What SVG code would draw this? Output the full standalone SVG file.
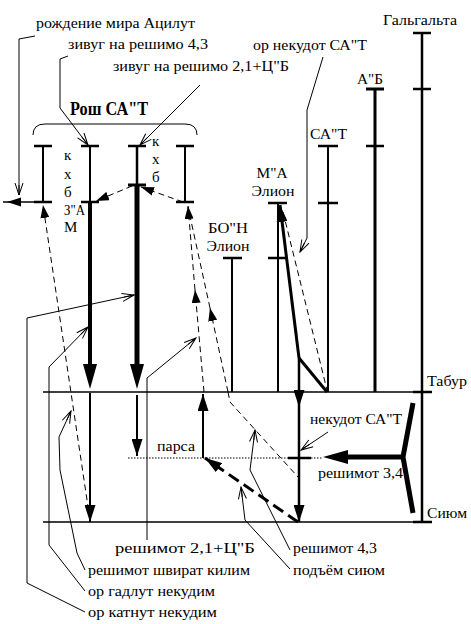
<svg xmlns="http://www.w3.org/2000/svg" width="471" height="624" viewBox="0 0 471 624">
<style>
text{font-family:'Liberation Serif','Times New Roman',serif;font-size:15px;fill:#000}
.m{text-anchor:middle}
.h{font-size:18px;font-weight:bold}
.t{stroke:#000;fill:none;stroke-width:1}
.c{stroke:#000;fill:none;stroke-width:2}
.c3{stroke:#000;fill:none;stroke-width:3}
.bar{stroke:#000;stroke-width:2.5}
.d{stroke:#000;fill:none;stroke-width:1;stroke-dasharray:6 4}
.dk{stroke:#000;fill:none;stroke-width:3;stroke-dasharray:12 6}
.dot{stroke:#000;fill:none;stroke-width:1;stroke-dasharray:1.5 1.5}
</style>
<defs>
<marker id="op" markerUnits="userSpaceOnUse" markerWidth="14" markerHeight="10" refX="13" refY="5" orient="auto" viewBox="0 0 14 10"><path d="M1,1 L13,5 L1,9 M3,5 L13,5" fill="none" stroke="#000" stroke-width="1"/></marker>
<marker id="fs" markerUnits="userSpaceOnUse" markerWidth="13" markerHeight="9" refX="13" refY="4.5" orient="auto" viewBox="0 0 13 9"><path d="M0,0 L13,4.5 L0,9 z" fill="#000"/></marker>
<marker id="fm" markerUnits="userSpaceOnUse" markerWidth="17" markerHeight="11" refX="17" refY="5.5" orient="auto" viewBox="0 0 17 11"><path d="M0,0 L17,5.5 L0,11 z" fill="#000"/></marker>
<marker id="fl" markerUnits="userSpaceOnUse" markerWidth="25" markerHeight="14" refX="6" refY="7" orient="auto" viewBox="0 0 25 14"><path d="M0,0 L25,7 L0,14 z" fill="#000"/></marker>
</defs>
<rect width="471" height="624" fill="#fff"/>

<g id="levels">
<line class="c" x1="43" y1="392" x2="432" y2="392" style="stroke-width:1.5"/>
<line class="c" x1="43" y1="522" x2="432" y2="522" style="stroke-width:1.5"/>
<line class="dot" x1="128" y1="458" x2="323" y2="458"/>
<line class="bar" x1="288" y1="458" x2="311" y2="458"/>
<text x="427" y="386" textLength="40" lengthAdjust="spacingAndGlyphs">Табур</text>
<text x="427" y="518" textLength="40" lengthAdjust="spacingAndGlyphs">Сиюм</text>
<text x="157" y="451" textLength="38" lengthAdjust="spacingAndGlyphs">парса</text>
</g>

<g id="rosh-brace">
<path class="t" d="M33,135 Q33,124 45,124 L185,124 Q197,124 197,135"/>
<text class="h" x="70" y="115" textLength="78" lengthAdjust="spacingAndGlyphs">Рош СА"Т</text>
</g>

<g id="col1">
<line class="c" x1="43" y1="146" x2="43" y2="202"/>
<line class="bar" x1="34" y1="146" x2="52" y2="146"/>
<line class="bar" x1="34" y1="202" x2="52" y2="202"/>
<text x="64" y="160">к</text>
<text x="64" y="179">х</text>
<text x="64" y="197">б</text>
<text x="64" y="215" textLength="21" lengthAdjust="spacingAndGlyphs">З"А</text>
<text x="64" y="232">М</text>
</g>

<g id="col2">
<line class="c" x1="90" y1="146" x2="90" y2="202"/>
<line class="bar" x1="81" y1="146" x2="99" y2="146"/>
<line class="bar" x1="81" y1="202" x2="99" y2="202"/>
<line stroke="#000" stroke-width="4" x1="90" y1="202" x2="90" y2="370" marker-end="url(#fl)"/>
<line class="c" x1="90" y1="393" x2="90" y2="522" marker-end="url(#fm)"/>
</g>

<g id="col3">
<line class="c" x1="137" y1="146" x2="137" y2="185" style="stroke-width:2.5"/>
<line class="bar" x1="128" y1="146" x2="146" y2="146"/>
<line class="bar" x1="128" y1="185" x2="146" y2="185" style="stroke-width:3"/>
<line stroke="#000" stroke-width="5" x1="137" y1="185" x2="137" y2="370" marker-end="url(#fl)"/>
<line class="c" x1="137" y1="395" x2="137" y2="456" marker-end="url(#fm)"/>
<text x="152" y="146">к</text>
<text x="152" y="164">х</text>
<text x="152" y="182">б</text>
</g>

<g id="col4">
<line class="c" x1="185" y1="146" x2="185" y2="202"/>
<line class="bar" x1="176" y1="146" x2="194" y2="146"/>
<line class="bar" x1="176" y1="202" x2="194" y2="202"/>
</g>

<g id="bon-elion">
<line class="c" x1="232" y1="258" x2="232" y2="392"/>
<line class="bar" x1="223" y1="258" x2="242" y2="258"/>
<text class="m" x="228" y="233" textLength="40" lengthAdjust="spacingAndGlyphs">БО"Н</text>
<text class="m" x="228" y="251" textLength="43" lengthAdjust="spacingAndGlyphs">Элион</text>
</g>

<g id="ma-elion">
<line class="c" x1="278" y1="203" x2="278" y2="392"/>
<line class="bar" x1="268" y1="203" x2="287" y2="203"/>
<line class="bar" x1="268" y1="258" x2="287" y2="258"/>
<text class="m" x="272" y="178" textLength="31" lengthAdjust="spacingAndGlyphs">М"А</text>
<text class="m" x="273" y="196" textLength="43" lengthAdjust="spacingAndGlyphs">Элион</text>
</g>

<g id="sag">
<line class="c" x1="328" y1="146" x2="328" y2="392"/>
<line class="bar" x1="318" y1="146" x2="338" y2="146"/>
<line class="bar" x1="318" y1="203" x2="338" y2="203"/>
<text x="310" y="139" textLength="37" lengthAdjust="spacingAndGlyphs">СА"Т</text>
</g>

<g id="ab">
<line class="c3" x1="375" y1="89" x2="375" y2="392"/>
<line class="bar" x1="366" y1="89" x2="384" y2="89" style="stroke-width:3"/>
<line class="bar" x1="366" y1="146" x2="384" y2="146"/>
<text x="357" y="84" textLength="26" lengthAdjust="spacingAndGlyphs">А"Б</text>
</g>

<g id="galgalta">
<line class="c" x1="422" y1="33" x2="422" y2="522" style="stroke-width:2.5"/>
<line class="bar" x1="413" y1="33" x2="431" y2="33"/>
<line class="bar" x1="413" y1="89" x2="431" y2="89"/>
<line class="bar" x1="413" y1="392" x2="432" y2="392"/>
<line class="bar" x1="413" y1="522" x2="432" y2="522"/>
<text x="383" y="25" textLength="74" lengthAdjust="spacingAndGlyphs">Гальгальта</text>
</g>

<g id="reshimot34">
<polyline stroke="#000" fill="none" stroke-width="5" points="413,403 403,457 413,513"/>
<line stroke="#000" stroke-width="5" x1="403" y1="457" x2="342" y2="457" marker-end="url(#fl)"/>
<text x="318" y="478" textLength="85" lengthAdjust="spacingAndGlyphs">решимот 3,4</text>
</g>

<g id="labels">
<text x="36" y="28" textLength="159" lengthAdjust="spacingAndGlyphs">рождение мира Ацилут</text>
<text x="68" y="49" textLength="140" lengthAdjust="spacingAndGlyphs">зивуг на решимо 4,3</text>
<text x="113" y="71" textLength="176" lengthAdjust="spacingAndGlyphs">зивуг на решимо 2,1+Ц"Б</text>
<text x="253" y="50" textLength="114" lengthAdjust="spacingAndGlyphs">ор некудот СА"Т</text>
<text x="310" y="424" textLength="92" lengthAdjust="spacingAndGlyphs">некудот СА"Т</text>
<text x="115" y="553" textLength="140" lengthAdjust="spacingAndGlyphs">решимот 2,1+Ц"Б</text>
<text x="293" y="553" textLength="84" lengthAdjust="spacingAndGlyphs">решимот 4,3</text>
<text x="293" y="575" textLength="92" lengthAdjust="spacingAndGlyphs">подъём сиюм</text>
<text x="88" y="575" textLength="162" lengthAdjust="spacingAndGlyphs">решимот швират килим</text>
<text x="88" y="596" textLength="127" lengthAdjust="spacingAndGlyphs">ор гадлут некудим</text>
<text x="88" y="617" textLength="129" lengthAdjust="spacingAndGlyphs">ор катнут некудим</text>
</g>

<g id="connectors">
<polyline class="t" points="35,36 19,39 19,195" marker-end="url(#op)"/>
<polyline class="t" points="68,56 60,59 60,108 88,145" marker-end="url(#op)"/>
<line class="t" x1="200" y1="85" x2="140" y2="145" marker-end="url(#op)"/>
<line class="c" x1="35" y1="202" x2="3" y2="202" style="stroke-width:1.5"/>
<polygon points="7,202 21,197.5 21,206.5" fill="#000"/>
<line class="d" x1="132" y1="186" x2="96" y2="201" marker-end="url(#fs)"/>
<line class="d" x1="183" y1="202" x2="141" y2="187" marker-end="url(#fs)"/>
<line class="d" x1="90" y1="520" x2="43" y2="205" marker-end="url(#fs)"/>
<line class="d" x1="204" y1="392" x2="195" y2="290" marker-end="url(#fs)"/>
<line class="d" x1="195" y1="290" x2="188" y2="206" marker-end="url(#fs)"/>
<line class="d" x1="228" y1="392" x2="210" y2="308" marker-end="url(#fs)"/>
<line class="d" x1="210" y1="308" x2="188" y2="207"/>
<polyline class="d" points="228,392 230,402 298,477"/>
<line class="c" x1="203" y1="458" x2="203" y2="394" marker-end="url(#fm)"/>
<line class="dk" x1="298" y1="522" x2="205" y2="458" marker-end="url(#fm)"/>
<line class="c3" x1="299" y1="358" x2="280" y2="205" marker-end="url(#fm)"/>
<line class="c3" x1="299" y1="358" x2="327" y2="392"/>
<line class="c" x1="299" y1="358" x2="299" y2="407" style="stroke-width:2.5" marker-end="url(#fm)"/>
<line class="c" x1="299" y1="407" x2="299" y2="522" style="stroke-width:2.5" marker-end="url(#fm)"/>
<line class="d" x1="283" y1="212" x2="327" y2="390"/>
<polyline class="t" points="323,57 307,110 307,238 300,252" marker-end="url(#op)"/>
<line class="t" x1="328" y1="432" x2="301" y2="450" marker-end="url(#op)"/>
<polyline class="t" points="85,612 27,583 27,318 134,295" marker-end="url(#op)"/>
<polyline class="t" points="85,591 49,545 49,367 88,327" marker-end="url(#op)"/>
<polyline class="t" points="85,570 77,553 60,470 59,437 71,411" marker-end="url(#op)"/>
<polyline class="t" points="147,540 147,378 196,338" marker-end="url(#op)"/>
<polyline class="t" points="290,550 250,470 255,430" marker-end="url(#op)"/>
<polyline class="t" points="290,569 245,520 241,487" marker-end="url(#op)"/>
</g>
</svg>
